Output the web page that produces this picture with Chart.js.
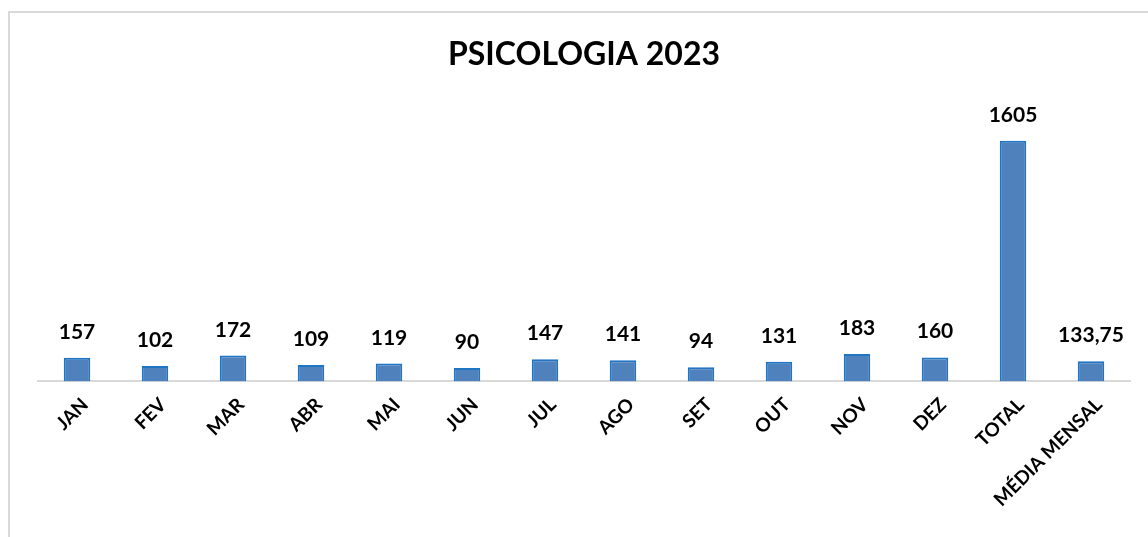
<!DOCTYPE html>
<html>
<head>
<meta charset="utf-8">
<script src="https://cdn.jsdelivr.net/npm/chart.js@4.4.0/dist/chart.umd.min.js"></script>
<style>
    html, body { margin: 0; padding: 0; background: #fff; overflow: hidden; }
    #frame { position: absolute; left: 8px; top: 11px; width: 1300px; height: 700px; border: 2px solid #d9d9d9; }
    #wrap { position: absolute; left: 0; top: 0; width: 1148px; height: 537px; }
</style>
</head>
<body>
<div id="frame"></div>
<div id="wrap"><canvas id="chart"></canvas></div>
<script>
// Data
const categories = ['JAN', 'FEV', 'MAR', 'ABR', 'MAI', 'JUN', 'JUL', 'AGO', 'SET', 'OUT', 'NOV', 'DEZ', 'TOTAL', 'MÉDIA MENSAL'];
const values = [157, 102, 172, 109, 119, 90, 147, 141, 94, 131, 183, 160, 1605, 133.75];
const valueLabels = ['157', '102', '172', '109', '119', '90', '147', '141', '94', '131', '183', '160', '1605', '133,75'];

const FONT = 'Lato, "Open Sans", sans-serif';

// value labels above bars (no datalabels plugin available)
const barLabels = {
    id: 'barLabels',
    afterDatasetsDraw(chart) {
        const ctx = chart.ctx;
        const meta = chart.getDatasetMeta(0);
        ctx.save();
        ctx.font = 'bold 21px ' + FONT;
        ctx.fillStyle = '#000';
        ctx.textAlign = 'center';
        ctx.textBaseline = 'alphabetic';
        meta.data.forEach((bar, i) => {
            ctx.fillText(valueLabels[i], bar.x, bar.y - 19);
        });
        ctx.restore();
    }
};

new Chart(document.getElementById('chart'), {
    type: 'bar',
    data: {
        labels: categories,
        datasets: [{
            data: values,
            backgroundColor: '#4f81bd',
            borderColor: '#1f74c4',
            borderWidth: 2,
            barPercentage: 0.34,
            categoryPercentage: 1
        }]
    },
    options: {
        responsive: true,
        maintainAspectRatio: false,
        animation: false,
        layout: { padding: { left: 38, right: 18, top: 0, bottom: 14 } },
        plugins: {
            legend: { display: false },
            tooltip: { enabled: false },
            title: {
                display: true,
                text: 'PSICOLOGIA 2023',
                color: '#000',
                font: { family: FONT, size: 32, weight: 'bold' },
                padding: { top: 35, bottom: 38 }
            }
        },
        scales: {
            x: {
                grid: { display: false, drawTicks: false },
                border: { display: true, color: '#d9d9d9', width: 2 },
                ticks: {
                    color: '#000',
                    font: { family: FONT, size: 19, weight: 'bold' },
                    maxRotation: 45,
                    minRotation: 45,
                    padding: 12,
                    labelOffset: 8,
                    autoSkip: false
                }
            },
            y: {
                display: false,
                min: 0,
                max: 1800
            }
        }
    },
    plugins: [barLabels]
});
</script>
</body>
</html>
